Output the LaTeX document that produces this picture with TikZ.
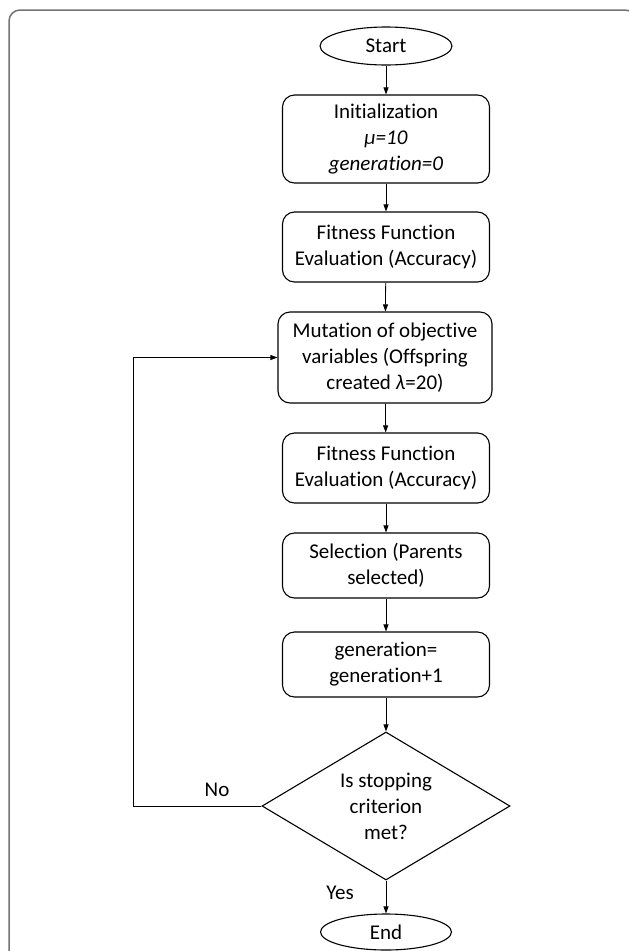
\documentclass[tikz,border=0pt]{standalone}
\usepackage{fontspec}
\setmainfont{Carlito}[Ligatures=NoCommon]
\usetikzlibrary{shapes.geometric,arrows.meta}
\begin{document}
\begin{tikzpicture}[x=1pt,y=-1pt,
  every node/.style={font=\fontsize{21}{26}\selectfont, text=black},
  procbox/.style={draw, line width=1.1pt, rounded corners=12pt, align=center, inner sep=0pt, minimum width=207pt},
  term/.style={draw, line width=1.1pt, ellipse, inner sep=0pt, minimum width=132pt, minimum height=38pt},
  decis/.style={draw, line width=1.1pt, diamond, aspect=1.676, inner sep=0pt, minimum width=248pt, minimum height=148pt, align=center},
  flow/.style={line width=0.8pt, -{Triangle[length=7pt,width=5pt]}},
  lbl/.style={inner sep=0pt}
]
\useasboundingbox (0,0) rectangle (629,951);
\begin{scope}
  \clip (0,0) rectangle (629,951);
  \draw[line width=1.5pt, black!55, rounded corners=11pt] (9,10) rectangle (636,970);
\end{scope}

\node[term] (start) at (386,46) {Start};
\node[procbox, minimum height=88pt] (init) at (386,139) {Initialization\\ \textit{μ=10}\\ \textit{generation=0}};
\node[procbox, minimum height=70pt] (fit1) at (386,247) {Fitness Function\\ Evaluation (Accuracy)};
\node[procbox, minimum width=214pt, minimum height=91pt] (mut) at (385,357.5) {Mutation of objective\\ variables (Offspring\\ created \textit{λ}=20)};
\node[procbox, minimum height=70pt] (fit2) at (386,468) {Fitness Function\\ Evaluation (Accuracy)};
\node[procbox, minimum height=65pt] (sel) at (386,565.5) {Selection (Parents\\ selected)};
\node[procbox, minimum height=65pt] (gen) at (386,664.5) {generation=\\ generation+1};
\node[decis] (dec) at (386,806) {Is stopping\\ criterion\\ met?};
\node[term, minimum height=36pt, minimum width=131pt] (end) at (386,932) {End};

\coordinate (lp) at (133,806);

\draw[flow] (start) -- (init);
\draw[flow] (init) -- (fit1);
\draw[flow] (fit1) -- (mut);
\draw[flow] (mut) -- (fit2);
\draw[flow] (fit2) -- (sel);
\draw[flow] (sel) -- (gen);
\draw[flow] (gen) -- (dec);
\draw[flow] (dec) -- (end);
\draw[flow] (dec.west) -- (lp) |- (mut.west);

\node[lbl] (no) at (217,790) {No};
\node[lbl] (yes) at (340,893) {Yes};
\end{tikzpicture}
\end{document}
